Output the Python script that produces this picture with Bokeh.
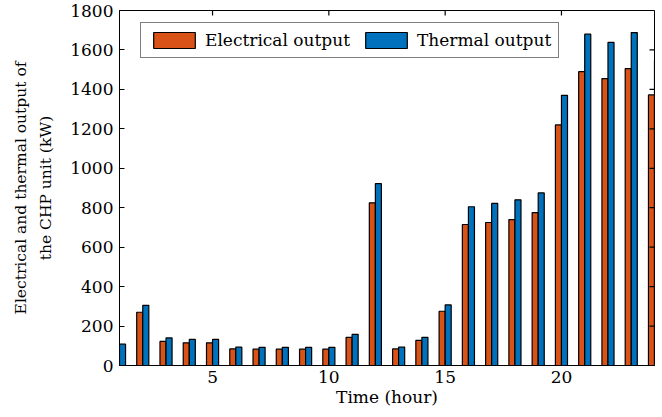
from bokeh.plotting import figure
from bokeh.models import ColumnDataSource, LinearAxis, FixedTicker, Range1d, Legend, LegendItem
from bokeh.transform import dodge
from bokeh.embed import file_html
from bokeh.resources import INLINE

hours = list(range(1, 25))
electrical = [95, 270, 122, 115, 115, 84, 83, 83, 83, 83, 143, 825, 84, 127, 275,
              715, 725, 740, 775, 1220, 1490, 1455, 1505, 1372]
thermal = [108, 305, 140, 132, 132, 93, 92, 92, 92, 92, 158, 922, 93, 143, 307,
           805, 822, 840, 875, 1370, 1680, 1638, 1688, 1547]
x_ticks = [5, 10, 15, 20]
y_ticks = [0, 200, 400, 600, 800, 1000, 1200, 1400, 1600, 1800]
series_names = ["Electrical output", "Thermal output"]
colors = ["#D95319", "#0072BD"]

FONT = "DejaVu Serif"

src = ColumnDataSource(dict(h=hours, e=electrical, t=thermal))

x0, x1 = hours[0], hours[-1]
y0, y1 = y_ticks[0], y_ticks[-1]

p = figure(width=662, height=417, output_backend="svg", toolbar_location=None,
           x_range=Range1d(x0, x1), y_range=Range1d(y0, y1),
           min_border_left=119, min_border_right=8, min_border_top=10, min_border_bottom=52)
p.xgrid.visible = False
p.ygrid.visible = False
p.outline_line_color = "black"
p.outline_line_width = 1
p.background_fill_color = "white"
p.border_fill_color = "white"

bw = 0.26
r_e = p.vbar(x=dodge("h", -bw / 2, range=p.x_range), top="e", width=bw, source=src,
             fill_color=colors[0], line_color="black", line_width=1.2)
r_t = p.vbar(x=dodge("h", bw / 2, range=p.x_range), top="t", width=bw, source=src,
             fill_color=colors[1], line_color="black", line_width=1.2)

# inward mirror ticks on the top and right edges (clipped to the frame)
p.scatter(x=x_ticks, y=[y1] * len(x_ticks), marker="dash", angle=1.5707963, size=10,
          line_color="black", line_width=1.2)
p.scatter(x=[x1] * len(y_ticks), y=y_ticks, marker="dash", size=10,
          line_color="black", line_width=1.2)

def style_axis(ax):
    ax.axis_line_color = "black"
    ax.axis_line_width = 1
    ax.major_tick_line_color = "black"
    ax.major_tick_in = 5
    ax.major_tick_out = 0
    ax.minor_tick_line_color = None
    ax.major_label_text_font = FONT
    ax.major_label_text_color = "black"
    ax.major_label_text_font_size = "17px"
    ax.axis_label_text_font = FONT
    ax.axis_label_text_color = "black"
    ax.axis_label_text_font_style = "normal"

xa = p.xaxis[0]
xa.ticker = FixedTicker(ticks=x_ticks)
style_axis(xa)
xa.major_label_standoff = 5
xa.axis_label = "Time (hour)"
xa.axis_label_text_font_size = "17px"
xa.axis_label_standoff = 1

ya = p.yaxis[0]
ya.ticker = FixedTicker(ticks=y_ticks)
style_axis(ya)
ya.major_label_standoff = 6
ya.axis_label = "the CHP unit (kW)"
ya.axis_label_text_font_size = "15.5px"
ya.axis_label_standoff = 12

ya2 = LinearAxis(ticker=FixedTicker(ticks=[]), axis_line_color=None,
                 major_tick_line_color=None, minor_tick_line_color=None,
                 major_label_standoff=0,
                 axis_label="Electrical and thermal output of",
                 axis_label_text_font=FONT, axis_label_text_font_size="15.5px",
                 axis_label_text_color="black",
                 axis_label_text_font_style="normal", axis_label_standoff=5)
p.add_layout(ya2, "left")

legend = Legend(items=[LegendItem(label=series_names[0], renderers=[r_e]),
                       LegendItem(label=series_names[1], renderers=[r_t])],
                orientation="horizontal", location=(21, 307),
                glyph_width=52, glyph_height=20, label_standoff=5, spacing=10,
                padding=7, margin=0, border_line_color="black", border_line_width=1.5,
                label_text_font=FONT, label_text_font_size="17px", label_text_color="black",
                background_fill_color="white", background_fill_alpha=1)
p.add_layout(legend, "center")

open("out.html", "w").write(file_html(p, INLINE))
